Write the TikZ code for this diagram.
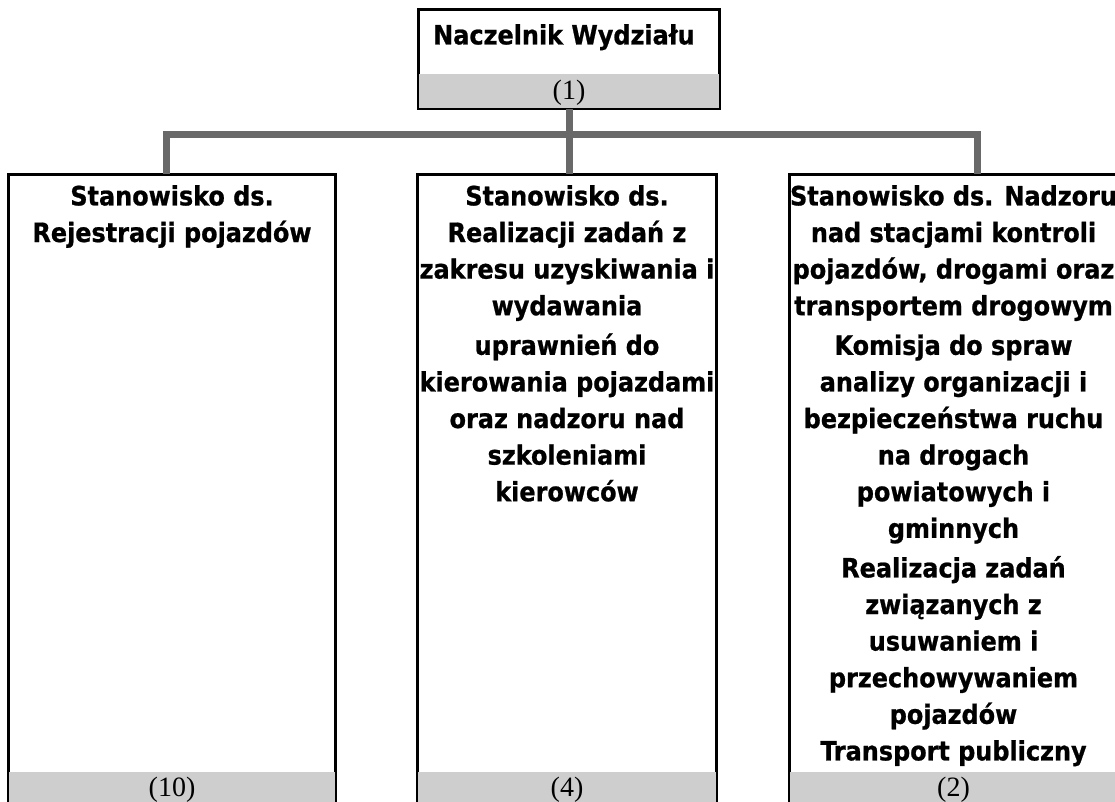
\documentclass[tikz,border=0pt]{standalone}
\usepackage{fontspec}
\setmainfont{Liberation Serif}
\newfontfamily\unitfont[BoldFeatures={FakeBold=0.8}]{DejaVu Sans Condensed}
\definecolor{bandgray}{RGB}{206,206,206}
\definecolor{linkgray}{RGB}{105,105,105}

\begin{document}
\begin{tikzpicture}[
  x=1pt, y=1pt,
  unit/.style={draw=black, line width=2pt, inner sep=0pt, anchor=north west},
  band/.style={fill=bandgray},
  link/.style={draw=linkgray, line width=7pt, line join=miter},
  title/.style={inner sep=0pt, anchor=north, align=center,
    font=\unitfont\bfseries\fontsize{26.6}{36.6}\selectfont},
  num/.style={inner sep=0pt, font=\fontsize{28}{30}\selectfont}
]
\useasboundingbox (0,0) rectangle (1115,-802);

% boxes
\node[unit, minimum width=300pt, minimum height=98pt] (head) at (418,-9) {};
\node[unit, minimum width=326pt, minimum height=629pt] (reg) at (8,-174) {};
\node[unit, minimum width=298pt, minimum height=629pt] (perm) at (417,-174) {};
\node[unit, minimum width=327pt, minimum height=629pt] (ctrl) at (789,-174) {};

% grey bands
\fill[band] ([yshift=35pt]head.south west) rectangle (head.south east);
\foreach \n in {reg,perm,ctrl}
  \fill[band] ([yshift=33pt]\n.south west) rectangle (\n.south east);
\foreach \n in {head,reg,perm,ctrl}
  \draw[line width=2pt] (\n.north west) rectangle (\n.south east);

% connectors
\coordinate (barL) at (166,-135);
\coordinate (barR) at (977,-135);
\draw[link] (barL |- reg.north) -- (barL) -- (barR) -- (barR |- ctrl.north);
\draw[link] (head.south) -- (head.south |- perm.north);

% texts
\node[title] (headtext) at ([xshift=-5pt,yshift=-15pt]head.north) {Naczelnik Wydziału};
\node[title] (regtext) at ([yshift=-11pt]reg.north) {Stanowisko ds.\\Rejestracji pojazdów};
\node[title] (permtext) at ([yshift=-11pt]perm.north) {Stanowisko ds.\\Realizacji zadań z\\zakresu uzyskiwania i\\wydawania\\[3pt]
  uprawnień do\\kierowania pojazdami\\oraz nadzoru nad\\szkoleniami\\kierowców};
\node[title] (ctrltext) at ([yshift=-11pt]ctrl.north) {Stanowisko ds. Nadzoru\\nad stacjami kontroli\\pojazdów, drogami oraz\\transportem drogowym\\[3pt]
  Komisja do spraw\\analizy organizacji i\\bezpieczeństwa ruchu\\na drogach\\powiatowych i\\gminnych\\[3pt]
  Realizacja zadań\\związanych z\\usuwaniem i\\przechowywaniem\\pojazdów\\Transport publiczny};

% numbers
\node[num] (headnum) at ([yshift=16pt]head.south) {(1)};
\node[num] (regnum) at ([yshift=15pt]reg.south) {(10)};
\node[num] (permnum) at ([yshift=15pt]perm.south) {(4)};
\node[num] (ctrlnum) at ([yshift=15pt]ctrl.south) {(2)};
\end{tikzpicture}
\end{document}
